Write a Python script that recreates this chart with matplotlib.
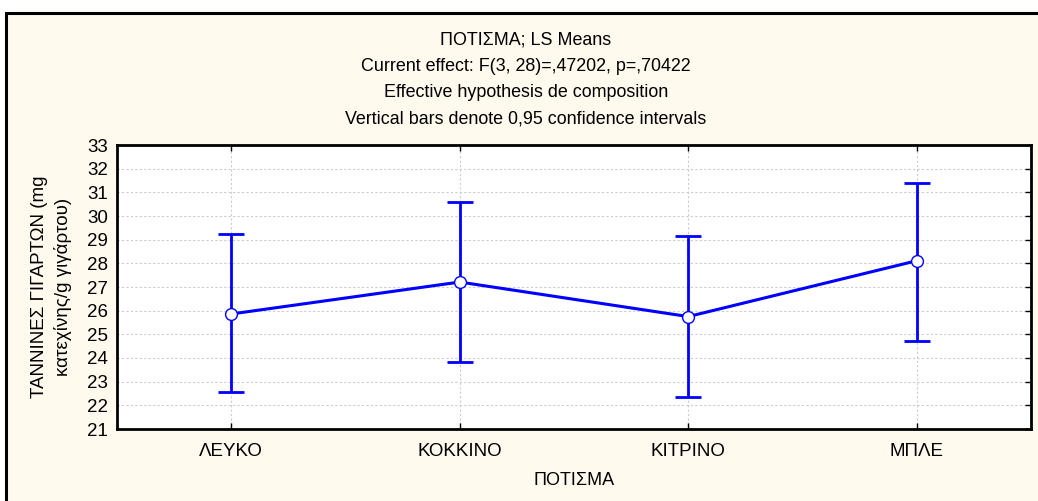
import matplotlib
matplotlib.use("Agg")
import matplotlib.pyplot as plt
from matplotlib.patches import Rectangle

# ----------------------------------
# Data
# ----------------------------------

categories = ["ΛΕΥΚΟ", "ΚΟΚΚΙΝΟ", "ΚΙΤΡΙΝΟ", "ΜΠΛΕ"]
means = [25.86, 27.21, 25.75, 28.11]
upper = [29.25, 30.60, 29.14, 31.41]
lower = [22.58, 23.83, 22.34, 24.73]

title_lines = [
    "ΠΟΤΙΣΜΑ; LS Means",
    "Current effect: F(3, 28)=,47202, p=,70422",
    "Effective hypothesis de composition",
    "Vertical bars denote 0,95 confidence intervals",
]
y_ticks = list(range(21, 34))

plt.rcParams["font.family"] = ["Liberation Sans", "DejaVu Sans"]

bg = "#FFF9EE"
blue = "#0000FF"

fig = plt.figure(figsize=(10.38, 5.01), dpi=100)
fig.patch.set_facecolor("white")

# outer frame (drawn behind the axes)
frame = Rectangle(
    (6 / 1038, -0.05), 1.1, 1 - 13 / 501 + 0.05,
    transform=fig.transFigure,
    facecolor=bg, edgecolor="black", linewidth=2.2, zorder=-10
)
fig.add_artist(frame)

ax = fig.add_axes([117 / 1038, 1 - 429 / 501, (1031 - 117) / 1038, (429 - 145) / 501])
ax.set_zorder(5)
ax.set_facecolor("white")

x = list(range(len(categories)))
err_lo = [m - l for m, l in zip(means, lower)]
err_hi = [u - m for m, u in zip(means, upper)]

ax.errorbar(
    x, means,
    yerr=[err_lo, err_hi],
    fmt="none",
    ecolor=blue,
    elinewidth=2.0,
    capsize=9.5,
    capthick=2.0,
    zorder=3
)
ax.plot(
    x, means,
    color=blue,
    linewidth=2.2,
    marker="o",
    markersize=8.5,
    markerfacecolor="white",
    markeredgecolor=blue,
    markeredgewidth=1.0,
    zorder=4
)

ax.set_xlim(-0.5, 3.5)
ax.set_ylim(21, 33)
ax.set_yticks(y_ticks)
ax.set_xticks(x)
ax.set_xticklabels(categories, fontsize=13.5)
ax.tick_params(axis="y", labelsize=13.5, pad=6.5)
ax.tick_params(direction="in", length=4, width=1, top=True, right=True, left=False)
ax.tick_params(axis="x", pad=10)

ax.grid(True, color="#CCCCCC", linestyle=(0, (2, 2)), linewidth=0.8)
ax.set_axisbelow(True)

for s in ax.spines.values():
    s.set_linewidth(2.0)
    s.set_color("black")

ax.set_xlabel("ΠΟΤΙΣΜΑ", fontsize=13, labelpad=9)
ax.set_ylabel("ΤΑΝΝΙΝΕΣ ΓΙΓΑΡΤΩΝ (mg\nκατεχίνης/g γιγάρτου)", fontsize=13.5,
              labelpad=11, linespacing=1.4)

# title lines
for i, line in enumerate(title_lines):
    fig.text(526 / 1038, 1 - (40 + i * 26.3) / 501, line,
             ha="center", va="center", fontsize=12.9)

fig.savefig("out.png", dpi=100, facecolor=fig.get_facecolor())
